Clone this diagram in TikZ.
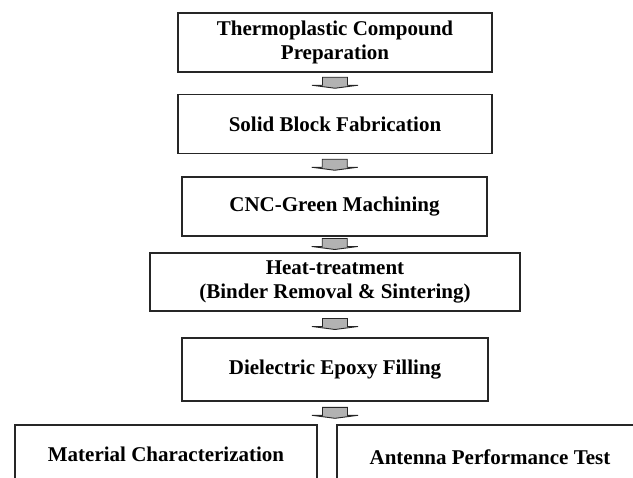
\documentclass[tikz,border=0pt]{standalone}
\usepackage{fontspec}
\setmainfont{Liberation Serif}
\begin{document}
\begin{tikzpicture}[x=1pt,y=-1pt,
  stepbox/.style={draw=black!85, line width=1.3pt, align=center,
    font=\fontsize{21}{24}\selectfont\bfseries, inner sep=0pt},
  lbl/.style={align=center, font=\fontsize{21}{24}\selectfont\bfseries, inner sep=0pt},
  frame/.style={draw=black!85, line width=1.3pt},
  barr/.pic={\filldraw[fill=black!30, draw=black!85, line width=0.9pt]
    (-12.5,-6) -- (12.5,-6) -- (12.5,2) -- (23,2) -- (0,5) -- (-23,2) -- (-12.5,2) -- cycle;}
]
\useasboundingbox (0,0) rectangle (633,478);
\clip (0,0) rectangle (633,478);
\node[stepbox, minimum width=314pt, minimum height=59pt] (b1) at (335,42.5) {Thermoplastic Compound\\Preparation};
\node[stepbox, minimum width=314pt, minimum height=59pt] (b2) at (335,124) {Solid Block Fabrication};
\node[stepbox, minimum width=305pt, minimum height=59pt] (b3) at (334.5,206.5) {CNC-Green Machining};
\node[stepbox, minimum width=370pt, minimum height=58pt] (b4) at (335,282) {Heat-treatment\\(Binder Removal \& Sintering)};
\node[stepbox, minimum width=306pt, minimum height=63pt] (b5) at (335,369.5) {Dielectric Epoxy Filling};
\node[lbl] (b6) at (166,454) {Material Characterization};
\node[lbl] (b7) at (490,457) {Antenna Performance Test};
\draw[frame] (15,490) -- (15,425) -- (317,425) -- (317,490);
\draw[frame] (337,490) -- (337,425) -- (645,425) -- (645,490);
\coordinate (split) at (335,425);
\path (b1.south) -- (b2.north) pic[pos=0.5]{barr};
\path (b2.south) -- (b3.north) pic[pos=0.5]{barr};
\path (b3.south) -- (b4.north) pic[pos=0.5]{barr};
\path (b4.south) -- (b5.north) pic[pos=0.5]{barr};
\path (b5.south) -- (split) pic[pos=0.5]{barr};
\end{tikzpicture}
\end{document}
